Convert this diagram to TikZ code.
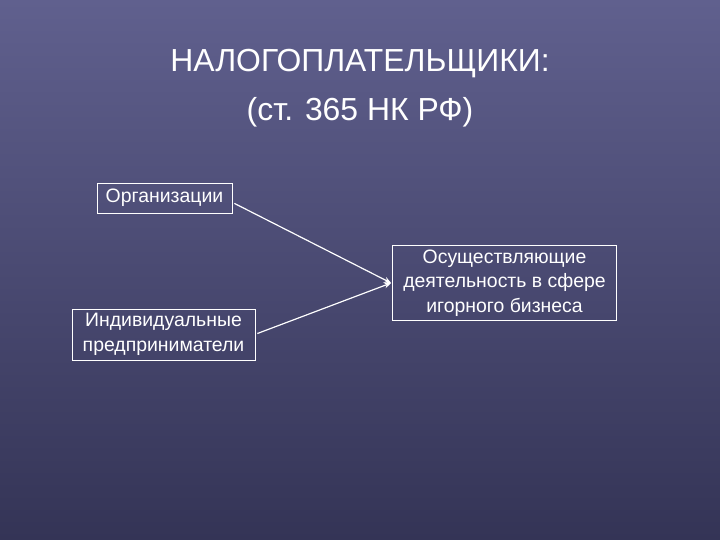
\documentclass[tikz,border=0pt]{standalone}
\usepackage{fontspec}
\setmainfont{Liberation Sans}
\usetikzlibrary{arrows.meta}
\definecolor{bgtop}{RGB}{96,96,142}
\definecolor{bgbot}{RGB}{52,52,86}
\tikzset{
  box/.style={draw=white, line width=0.8pt, text=white, inner sep=2pt, align=center,
    font=\fontsize{19.5}{24.5}\selectfont},
  conn/.style={draw=white, line width=1.2pt, -{Stealth[length=7pt,width=6pt]}},
  ttl/.style={text=white, font=\fontsize{32}{38}\selectfont}
}
\begin{document}
\begin{tikzpicture}[x=1bp,y=-1bp]
\shade[top color=bgtop, bottom color=bgbot] (0,0) rectangle (720,540);
\useasboundingbox (0,0) rectangle (720,540);
\node[ttl] (t1) at (360,64) {НАЛОГОПЛАТЕЛЬЩИКИ:};
\node[ttl] (t2) at (360,112) {(ст. 365 НК РФ)};
\node[box, minimum width=135bp, minimum height=30bp] (org) at (164.5,198) {Организации};
\node[box, minimum width=183bp, minimum height=51bp] (ip) at (163.5,334.5) {Индивидуальные\\предприниматели};
\node[box, minimum width=224bp, minimum height=75bp] (gb) at (504.5,283) {Осуществляющие\\деятельность в сфере\\игорного бизнеса};
\coordinate (s1) at ([xshift=2bp,yshift=10bp]org.south east);
\coordinate (s2) at ([xshift=2bp,yshift=1bp]ip.east);
\draw[conn] (s1) -- ([xshift=-1bp]gb.west);
\draw[conn] (s2) -- ([xshift=-1bp]gb.west);
\end{tikzpicture}
\end{document}
